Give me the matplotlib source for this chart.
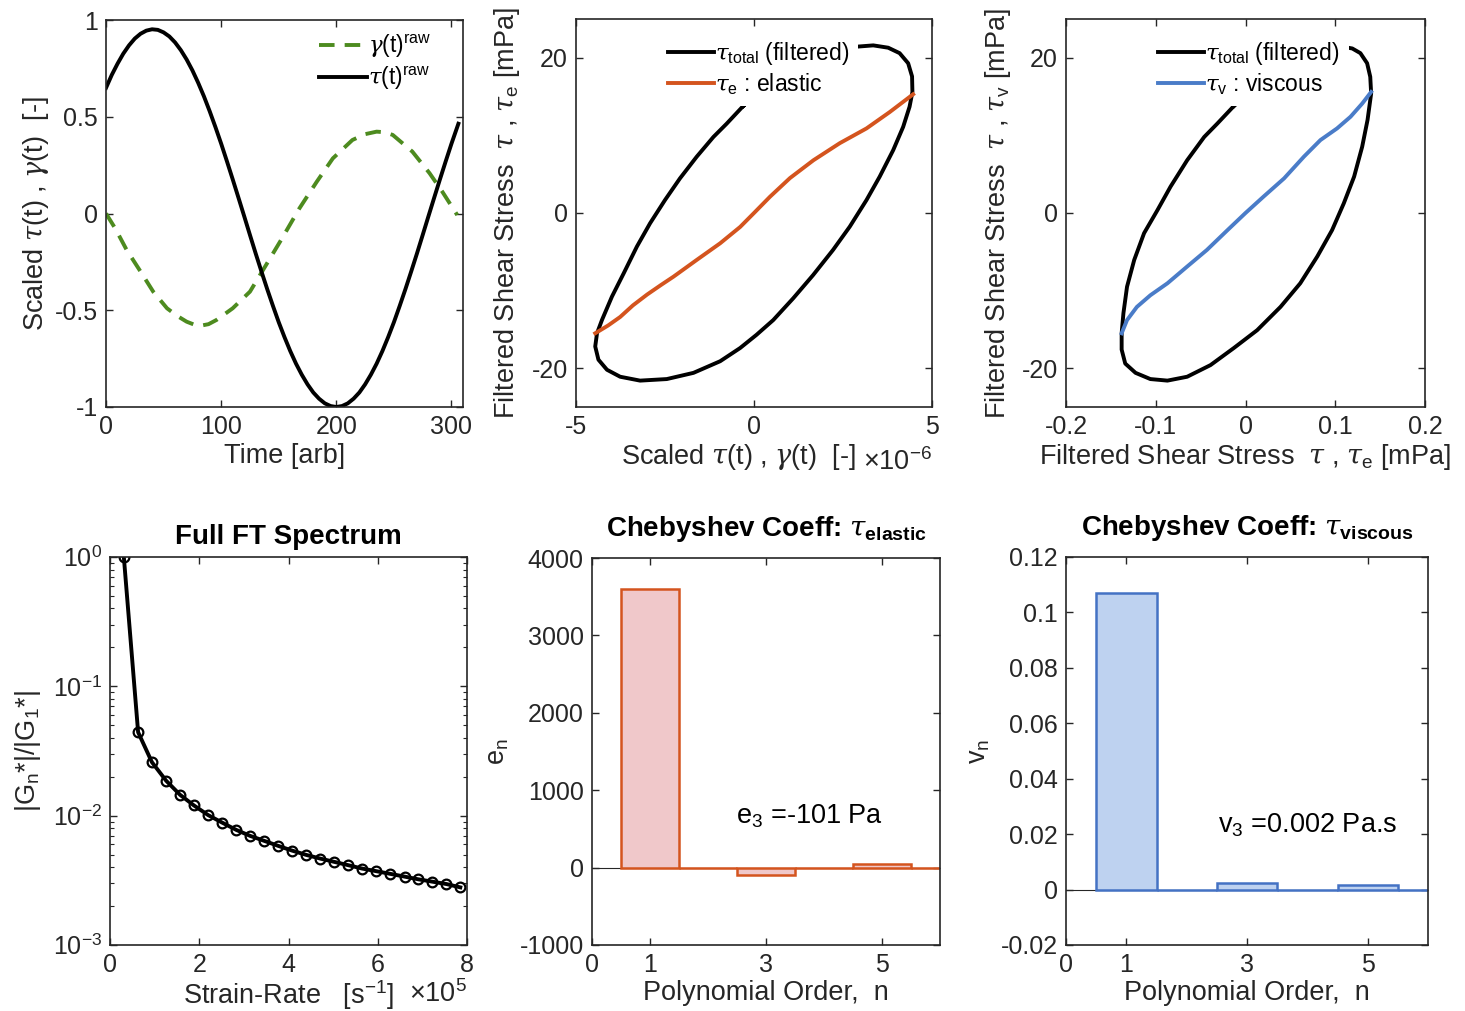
import numpy as np
import matplotlib
matplotlib.use('Agg')
import matplotlib.pyplot as plt
from matplotlib.ticker import FormatStrFormatter, LogLocator, NullFormatter

plt.rcParams['font.family'] = ['Liberation Sans', 'DejaVu Sans']
plt.rcParams['mathtext.fontset'] = 'custom'
plt.rcParams['mathtext.rm'] = 'Liberation Sans'
plt.rcParams['mathtext.it'] = 'DejaVu Serif:italic'
plt.rcParams['mathtext.bf'] = 'Liberation Sans:bold'
plt.rcParams['axes.unicode_minus'] = False

# --- dados ---
# painel 1: sinais brutos no tempo
t_tau = [0, 5, 10, 15, 20, 25, 30, 35, 40, 45, 50, 55, 60, 65, 70, 75, 80, 85, 90, 95,
         100, 105, 110, 115, 120, 125, 130, 135, 140, 145, 150, 155, 160, 165, 170, 175,
         180, 185, 190, 195, 200, 205, 210, 215, 220, 225, 230, 235, 240, 245, 250, 255,
         260, 265, 270, 275, 280, 285, 290, 295, 300, 306]
tau_raw = [0.649, 0.716, 0.774, 0.826, 0.869, 0.904, 0.929, 0.945, 0.952, 0.949, 0.936,
           0.915, 0.884, 0.844, 0.796, 0.740, 0.676, 0.606, 0.529, 0.447, 0.361, 0.270,
           0.177, 0.082, -0.014, -0.111, -0.207, -0.300, -0.391, -0.478, -0.562, -0.639,
           -0.711, -0.776, -0.833, -0.883, -0.925, -0.957, -0.981, -0.995, -1.000, -0.995,
           -0.981, -0.957, -0.925, -0.883, -0.833, -0.776, -0.711, -0.639, -0.562, -0.478,
           -0.391, -0.300, -0.207, -0.111, -0.014, 0.082, 0.177, 0.270, 0.361, 0.464]
t_gam = [0, 8, 18, 30, 41, 53, 62, 70, 76, 82, 89, 96, 110, 125, 139, 152, 168, 183, 197,
         214, 225, 235, 242, 249, 266, 281, 292, 305]
gam_raw = [0.0, -0.077, -0.189, -0.30, -0.404, -0.49, -0.53, -0.559, -0.573, -0.58, -0.572,
           -0.55, -0.49, -0.404, -0.266, -0.137, 0.027, 0.164, 0.285, 0.38, 0.41, 0.423,
           0.42, 0.406, 0.32, 0.208, 0.113, -0.008]

# painel 2: laço tensão x deformação (x em 1e-6)
loop_x = [-0.30, -0.77, -1.14, -1.61, -2.08, -2.50, -2.92, -3.29, -3.66, -3.99, -4.27,
          -4.41, -4.46, -4.37, -4.13, -3.76, -3.20, -2.45, -1.70, -0.95, -0.39, 0.07, 0.54,
          1.10, 1.66, 2.22, 2.69, 3.16, 3.53, 3.91, 4.19, 4.37, 4.45, 4.44, 4.33, 4.09,
          3.77, 3.35, 2.79, 2.2, 1.6, 1.0, 0.4, -0.30]
loop_y = [13.8, 11.5, 9.8, 7.25, 4.46, 1.67, -1.33, -4.33, -7.77, -10.77, -13.78, -15.5,
          -17.2, -18.9, -20.2, -21.1, -21.6, -21.4, -20.6, -19.1, -17.4, -15.7, -13.8,
          -11.0, -8.0, -4.76, -1.76, 1.67, 4.68, 8.1, 11.1, 13.7, 15.6, 17.6, 19.3, 20.6,
          21.3, 21.6, 21.4, 20.9, 20.0, 18.6, 16.6, 13.8]
el_x = [-4.46, -4.1, -3.76, -3.4, -3.0, -2.62, -2.26, -1.61, -0.95, -0.39, 0.0, 0.45,
        1.01, 1.67, 2.41, 3.16, 3.81, 4.47]
el_y = [-15.5, -14.5, -13.4, -11.9, -10.5, -9.3, -8.2, -6.05, -3.9, -1.8, 0.0, 2.1, 4.5,
        6.8, 9.0, 10.9, 13.0, 15.3]

# painel 3: laço tensão x tensão
rloop_x = [-0.013, -0.0316, -0.046, -0.065, -0.0835, -0.098, -0.113, -0.124, -0.132,
           -0.136, -0.138, -0.138, -0.134, -0.1225, -0.106, -0.087, -0.065, -0.039, -0.013,
           0.013, 0.039, 0.061, 0.080, 0.0965, 0.1095, 0.121, 0.130, 0.136, 0.140, 0.139,
           0.1355, 0.128, 0.119, 0.1095, 0.085, 0.06, 0.035, 0.01, -0.013]
rloop_y = [13.78, 11.5, 9.8, 6.8, 3.4, 0.39, -2.6, -6.05, -9.5, -12.9, -15.5, -17.6, -19.4,
           -20.6, -21.4, -21.6, -21.1, -19.6, -17.4, -15.1, -12.1, -9.06, -5.6, -2.2, 1.24,
           4.68, 8.54, 12.0, 15.4, 17.55, 19.3, 20.6, 21.2, 21.4, 21.0, 19.9, 18.3, 16.2,
           13.78]
vi_x = [-0.138, -0.132, -0.121, -0.106, -0.087, -0.065, -0.043, -0.020, 0.0, 0.020, 0.043,
        0.065, 0.0835, 0.102, 0.117, 0.130, 0.140]
vi_y = [-15.5, -13.8, -12.1, -10.6, -9.06, -6.9, -4.76, -2.2, 0.0, 2.1, 4.46, 7.25, 9.4,
        10.9, 12.4, 14.1, 15.6]

# painel 4: espectro FT (x em 1e5)
rate = [0.31, 0.63, 0.94, 1.26, 1.57, 1.88, 2.20, 2.51, 2.83, 3.14, 3.46, 3.77, 4.08,
        4.40, 4.71, 5.03, 5.34, 5.65, 5.97, 6.28, 6.60, 6.91, 7.22, 7.54, 7.85]
amp = [1.0, 0.0442, 0.0259, 0.0186, 0.0145, 0.0120, 0.0101, 0.00885, 0.00776, 0.00698,
       0.00638, 0.00584, 0.00537, 0.00497, 0.00466, 0.00439, 0.00414, 0.00390, 0.00372,
       0.00355, 0.00338, 0.00322, 0.00309, 0.00296, 0.00279]

# painéis 5 e 6: coeficientes de Chebyshev
ordem = [1, 2, 3, 4, 5, 6]
e_n = [3600, 0, -101, 0, 52, 0]
v_n = [0.107, 0, 0.0025, 0, 0.0016, 0]

GRAY = '#262626'
W, H = 1465, 1011
FT, FL, FG = 18, 19.5, 16.5   # tamanhos: ticks, rótulos, legenda


def eixo(fig, l, r, top, bot):
    ax = fig.add_axes([l / W, (H - bot) / H, (r - l) / W, (bot - top) / H])
    for s in ax.spines.values():
        s.set_color(GRAY)
        s.set_linewidth(1.2)
    ax.tick_params(direction='in', top=True, right=True, length=5, width=1,
                   colors=GRAY, labelsize=FT, pad=6)
    ax.tick_params(which='minor', direction='in', top=True, right=True, length=3, width=0.8,
                   colors=GRAY)
    return ax


fig = plt.figure(figsize=(W / 100, H / 100), dpi=100)

# --- painel 1 ---
ax1 = eixo(fig, 106, 463, 20, 407)
ax1.plot(t_gam, gam_raw, color='#4D8B1F', lw=2.8, dashes=(4, 2.6),
         label=r'$\gamma$(t)$^{\mathrm{raw}}$')
ax1.plot(t_tau, tau_raw, color='black', lw=2.8, label=r'$\tau$(t)$^{\mathrm{raw}}$')
ax1.set_xlim(0, 310)
ax1.set_ylim(-1, 1)
ax1.set_xticks([0, 100, 200, 300])
ax1.set_yticks([-1, -0.5, 0, 0.5, 1])
ax1.yaxis.set_major_formatter(FormatStrFormatter('%g'))
ax1.set_xlabel('Time [arb]', fontsize=FL, color=GRAY)
ax1.set_ylabel(r'Scaled $\tau$(t) , $\gamma$(t)  [-]', fontsize=FL, color=GRAY)
ax1.xaxis.set_label_coords(0.5, -0.093)
ax1.yaxis.set_label_coords(-0.155, 0.5)
ax1.legend(loc='upper right', bbox_to_anchor=(0.97, 1.02), frameon=False, fontsize=FG,
           handlelength=2.1, handletextpad=0.05, labelspacing=0.2, borderpad=0.4)

# --- painel 2 ---
ax2 = eixo(fig, 576, 932, 19, 407)
ax2.plot(loop_x, loop_y, color='black', lw=2.8, label=r'$\tau_\mathrm{total}$ (filtered)')
ax2.plot(el_x, el_y, color='#D4541E', lw=2.8, label=r'$\tau_\mathrm{e}$ : elastic')
ax2.set_xlim(-5, 5)
ax2.set_ylim(-25, 25)
ax2.set_xticks([-5, 0, 5])
ax2.set_yticks([-20, 0, 20])
ax2.set_xlabel(r'Scaled $\tau$(t) , $\gamma$(t)  [-]', fontsize=FL, color=GRAY)
ax2.set_ylabel(r'Filtered Shear Stress  $\tau$ , $\tau_\mathrm{e}$ [mPa]', fontsize=FL,
               color=GRAY)
ax2.xaxis.set_label_coords(0.455, -0.09)
ax2.yaxis.set_label_coords(-0.152, 0.5)
ax2.text(1.0, -0.105, r'$\times$10$^{-6}$', transform=ax2.transAxes, ha='right', va='top',
         fontsize=FL, color=GRAY)
ax2.legend(loc='upper left', bbox_to_anchor=(0.2, 1.0), fontsize=FG,
           handlelength=2.0, handletextpad=0.05, labelspacing=0.2, borderpad=0.4,
           frameon=True, framealpha=1, facecolor='white', edgecolor='none', fancybox=False)

# --- painel 3 ---
ax3 = eixo(fig, 1066, 1425, 19, 407)
ax3.plot(rloop_x, rloop_y, color='black', lw=2.8, label=r'$\tau_\mathrm{total}$ (filtered)')
ax3.plot(vi_x, vi_y, color='#4A7CC8', lw=2.8, label=r'$\tau_\mathrm{v}$ : viscous')
ax3.set_xlim(-0.2, 0.2)
ax3.set_ylim(-25, 25)
ax3.set_xticks([-0.2, -0.1, 0, 0.1, 0.2])
ax3.set_yticks([-20, 0, 20])
ax3.xaxis.set_major_formatter(FormatStrFormatter('%g'))
ax3.set_xlabel(r'Filtered Shear Stress  $\tau$ , $\tau_\mathrm{e}$ [mPa]', fontsize=FL,
               color=GRAY)
ax3.set_ylabel(r'Filtered Shear Stress  $\tau$ , $\tau_\mathrm{v}$ [mPa]', fontsize=FL,
               color=GRAY)
ax3.xaxis.set_label_coords(0.5, -0.09)
ax3.yaxis.set_label_coords(-0.148, 0.5)
ax3.legend(loc='upper left', bbox_to_anchor=(0.2, 1.0), fontsize=FG,
           handlelength=2.0, handletextpad=0.05, labelspacing=0.2, borderpad=0.4,
           frameon=True, framealpha=1, facecolor='white', edgecolor='none', fancybox=False)

# --- painel 4 ---
ax4 = eixo(fig, 110, 467, 557, 945)
ax4.semilogy(rate, amp, color='black', lw=2.8, marker='o', ms=7, mfc='none', mew=1.6)
ax4.set_xlim(0, 8)
ax4.set_ylim(1e-3, 1)
ax4.set_xticks([0, 2, 4, 6, 8])
ax4.set_yticks([1e-3, 1e-2, 1e-1, 1])
ax4.set_yticklabels(['10$^{-3}$', '10$^{-2}$', '10$^{-1}$', '10$^{0}$'])
ax4.yaxis.set_minor_locator(LogLocator(base=10, subs=np.arange(2, 10)))
ax4.yaxis.set_minor_formatter(NullFormatter())
ax4.set_title('Full FT Spectrum', fontsize=20, fontweight='bold', pad=9)
ax4.set_xlabel(r'Strain-Rate   [s$^{-1}$]', fontsize=FL, color=GRAY)
ax4.set_ylabel(r'|G$_\mathrm{n}$*|/|G$_\mathrm{1}$*|', fontsize=FL, color=GRAY)
ax4.xaxis.set_label_coords(0.5, -0.085)
ax4.yaxis.set_label_coords(-0.188, 0.5)
ax4.text(1.0, -0.09, r'$\times$10$^{5}$', transform=ax4.transAxes, ha='right', va='top',
         fontsize=FL, color=GRAY)

# --- painel 5 ---
ax5 = eixo(fig, 592, 940, 558, 945)
ax5.axhline(0, color=GRAY, lw=0.8, zorder=1)
ax5.bar(ordem, e_n, width=1.0, color='#F0C8CA', edgecolor='#D4541E', linewidth=1.8, zorder=2)
ax5.set_xlim(0, 6)
ax5.set_ylim(-1000, 4000)
ax5.set_xticks([0, 1, 3, 5])
ax5.set_yticks([-1000, 0, 1000, 2000, 3000, 4000])
ax5.set_title(r'Chebyshev Coeff: $\tau_{\mathbf{elastic}}$', fontsize=20,
              fontweight='bold', pad=16)
ax5.set_xlabel('Polynomial Order,  n', fontsize=FL, color=GRAY)
ax5.set_ylabel(r'$\mathrm{e}_\mathrm{n}$', fontsize=FL, color=GRAY)
ax5.xaxis.set_label_coords(0.5, -0.09)
ax5.yaxis.set_label_coords(-0.233, 0.5)
ax5.text(2.49, 660, r'$\mathrm{e}_3$ =-101 Pa', fontsize=FL, va='center', color='black')

# --- painel 6 ---
ax6 = eixo(fig, 1066, 1428, 557, 945)
ax6.axhline(0, color=GRAY, lw=0.8, zorder=1)
ax6.bar(ordem, v_n, width=1.0, color='#BED2F0', edgecolor='#4472C4', linewidth=1.8, zorder=2)
ax6.set_xlim(0, 6)
ax6.set_ylim(-0.02, 0.12)
ax6.set_xticks([0, 1, 3, 5])
ax6.set_yticks([-0.02, 0, 0.02, 0.04, 0.06, 0.08, 0.1, 0.12])
ax6.yaxis.set_major_formatter(FormatStrFormatter('%g'))
ax6.set_title(r'Chebyshev Coeff: $\tau_{\mathbf{viscous}}$', fontsize=20,
              fontweight='bold', pad=16)
ax6.set_xlabel('Polynomial Order,  n', fontsize=FL, color=GRAY)
ax6.set_ylabel(r'$\mathrm{v}_\mathrm{n}$', fontsize=FL, color=GRAY)
ax6.xaxis.set_label_coords(0.5, -0.09)
ax6.yaxis.set_label_coords(-0.204, 0.5)
ax6.text(2.52, 0.0233, r'$\mathrm{v}_3$ =0.002 Pa.s', fontsize=FL, va='center',
         color='black')

fig.savefig('out.png', dpi=100, facecolor='white')
